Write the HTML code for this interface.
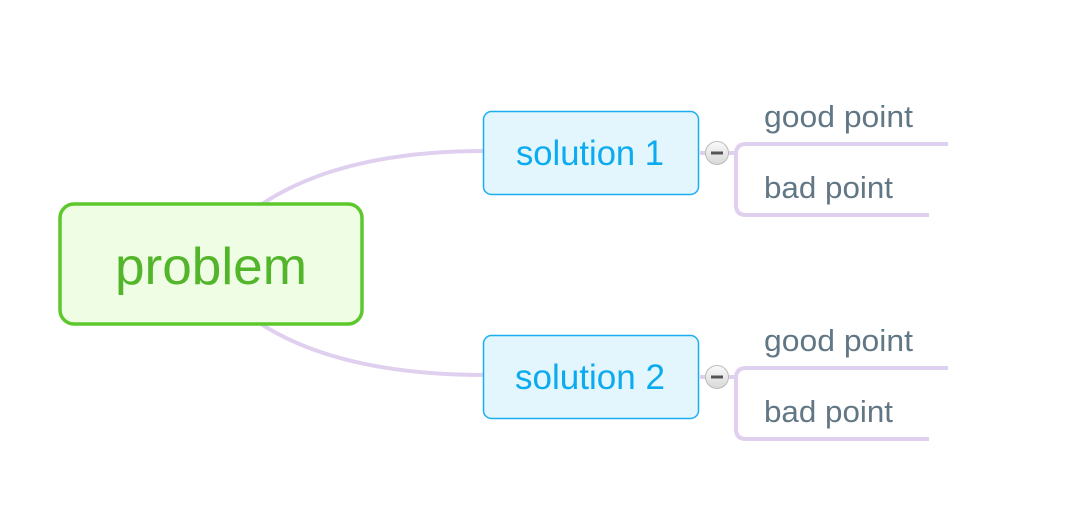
<!DOCTYPE html>
<html><head><meta charset="utf-8"><style>html,body{margin:0;padding:0;background:#fff;width:1078px;height:528px;overflow:hidden}</style></head>
<body>
<svg width="1078" height="528" xmlns="http://www.w3.org/2000/svg" font-family="Liberation Sans, sans-serif">
<defs><linearGradient id="g" x1="0" y1="0" x2="0" y2="1"><stop offset="0" stop-color="#fafafa"/><stop offset="1" stop-color="#d8d8d8"/></linearGradient></defs>
<g fill="none" stroke="#E0D0F0" stroke-width="4">
<path d="M230,230 Q310,151 485,151"/>
<path d="M230,300 Q310,375 485,375"/>
<path d="M700,153 L706,153"/><path d="M728,153 L735,153"/>
<path d="M948,144 L746,144 Q736,144 736,154 L736,205 Q736,215 746,215 L929,215"/>
<path d="M700,377 L706,377"/><path d="M728,377 L735,377"/>
<path d="M948,368 L746,368 Q736,368 736,378 L736,429 Q736,439 746,439 L929,439"/>
</g>
<rect x="60" y="204" width="302" height="120" rx="14" fill="#EFFDE4" stroke="#5CC82C" stroke-width="3.5"/>
<text x="211" y="284" text-anchor="middle" font-size="52" fill="#52B52A" textLength="192" lengthAdjust="spacingAndGlyphs">problem</text>
<rect x="483.5" y="111.5" width="215" height="83" rx="8" fill="#E3F5FD" stroke="#1AAEF0" stroke-width="1.5"/>
<text x="590" y="165" text-anchor="middle" font-size="35" fill="#0AABEF" textLength="148" lengthAdjust="spacingAndGlyphs">solution 1</text>
<rect x="483.5" y="335.5" width="215" height="83" rx="8" fill="#E3F5FD" stroke="#1AAEF0" stroke-width="1.5"/>
<text x="590" y="389" text-anchor="middle" font-size="35" fill="#0AABEF" textLength="150" lengthAdjust="spacingAndGlyphs">solution 2</text>
<g>
<circle cx="717" cy="153" r="11.5" fill="url(#g)" stroke="#bbb" stroke-width="1"/><rect x="711" y="151.5" width="12" height="3" fill="#555"/>
<circle cx="717" cy="377" r="11.5" fill="url(#g)" stroke="#bbb" stroke-width="1"/><rect x="711" y="375.5" width="12" height="3" fill="#555"/>
</g>
<g font-size="31" fill="#627785">
<text x="764" y="127" textLength="149" lengthAdjust="spacingAndGlyphs">good point</text>
<text x="764" y="198" textLength="129" lengthAdjust="spacingAndGlyphs">bad point</text>
<text x="764" y="351" textLength="149" lengthAdjust="spacingAndGlyphs">good point</text>
<text x="764" y="422" textLength="129" lengthAdjust="spacingAndGlyphs">bad point</text>
</g>
</svg>
</body></html>
